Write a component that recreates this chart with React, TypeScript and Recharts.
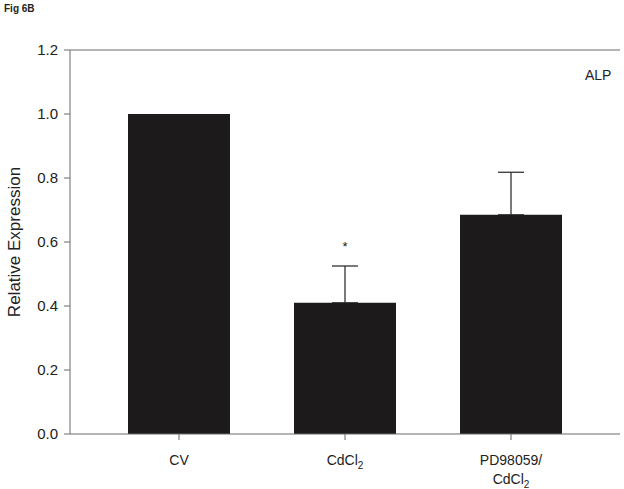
import { BarChart, Bar, XAxis, YAxis, ErrorBar, ReferenceLine, ReferenceDot, Label } from "recharts";

/* ── Data ─────────────────────────────────────────────── */

const CATEGORIES = ["CV", "CdCl2", "PD98059/CdCl2"];
const VALUES = [1.0, 0.41, 0.685];
const ERRORS = [null, 0.115, 0.133];
const Y_TICKS = [0, 0.2, 0.4, 0.6, 0.8, 1.0, 1.2];

const data = CATEGORIES.map((name, i) => ({
  name,
  value: VALUES[i],
  err: ERRORS[i] == null ? null : [0, ERRORS[i]],
}));

const FONT = "'Liberation Sans', Arial, sans-serif";
const AXIS_COLOR = "#6b6b6b";
const BAR_COLOR = "#1c1a1b";

/* ── Tick with subscripts ─────────────────────────────── */

function Chem({ text }: { text: string }) {
  // "CdCl2" -> CdCl with subscript 2
  if (text.endsWith("Cl2")) {
    return (
      <>
        {text.slice(0, -1)}
        <tspan fontSize={10} dy={4}>2</tspan>
      </>
    );
  }
  return <>{text}</>;
}

function CategoryTick({ x, y, payload }: any) {
  const lines = String(payload.value).split("/");
  return (
    <g transform={`translate(${x},${y})`}>
      {lines.map((line, i) => (
        <text
          key={i}
          x={0}
          y={23 + i * 19}
          textAnchor="middle"
          fontFamily={FONT}
          fontSize={14}
          fill="#222"
        >
          <Chem text={i < lines.length - 1 ? line + "/" : line} />
        </text>
      ))}
    </g>
  );
}

export default function App() {
  return (
    <div style={{ width: 624, height: 489, position: "relative", background: "#fff" }}>
      <style>{`body{margin:0}`}</style>
      <div
        style={{
          position: "absolute",
          left: 4,
          top: 3,
          fontFamily: FONT,
          fontWeight: "bold",
          fontSize: 10,
          color: "#222",
        }}
      >
        Fig 6B
      </div>
      <BarChart
        width={624}
        height={489}
        data={data}
        margin={{ top: 50, right: 4, bottom: 0, left: 0 }}
        barCategoryGap={32}
      >
        <XAxis
          dataKey="name"
          height={55}
          padding={{ left: 26, right: 26 }}
          stroke={AXIS_COLOR}
          tickSize={6}
          tickLine={{ stroke: AXIS_COLOR }}
          tick={<CategoryTick />}
          interval={0}
        />
        <YAxis
          domain={[0, 1.2]}
          ticks={Y_TICKS}
          width={70}
          stroke={AXIS_COLOR}
          tickSize={6}
          tickMargin={6}
          tickFormatter={(v: number) => v.toFixed(1)}
          tick={{ fontFamily: FONT, fontSize: 15, fill: "#222" }}
        >
          <Label
            value="Relative Expression"
            angle={-90}
            position="insideLeft"
            offset={14}
            style={{ fontFamily: FONT, fontSize: 17, fill: "#222", textAnchor: "middle" }}
          />
        </YAxis>
        <YAxis
          yAxisId="frame"
          orientation="right"
          domain={[0, 1.2]}
          width={0}
          tick={false}
          tickLine={false}
          stroke={AXIS_COLOR}
        />
        <ReferenceLine y={1.2} stroke={AXIS_COLOR} />
        <Bar dataKey="value" fill={BAR_COLOR} isAnimationActive={false}>
          <ErrorBar dataKey="err" width={13} stroke="#222" strokeWidth={1.2} direction="y" />
        </Bar>
        <ReferenceDot
          x="CdCl2"
          y={0.585}
          r={0}
          label={{ value: "*", position: "center", fontFamily: FONT, fontSize: 13, fill: "#222" }}
        />
        <text x={585} y={80} fontFamily={FONT} fontSize={14} fill="#222">
          ALP
        </text>
      </BarChart>
    </div>
  );
}
